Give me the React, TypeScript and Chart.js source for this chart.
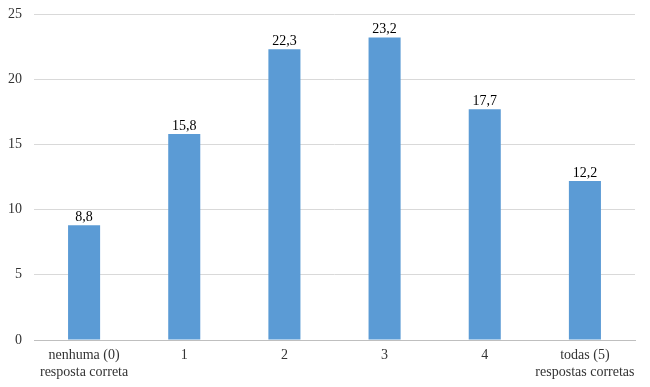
import React, { useEffect, useRef } from "react";
import { Chart, registerables } from "chart.js";

Chart.register(...registerables);

const categories: (string | string[])[] = [
  ["nenhuma (0)", "resposta correta"],
  "1",
  "2",
  "3",
  "4",
  ["todas (5)", "respostas corretas"],
];
const values = [8.8, 15.8, 22.3, 23.2, 17.7, 12.2];
const yTicks = [0, 5, 10, 15, 20, 25];

const FONT = '"Liberation Serif", "Times New Roman", serif';

const valueLabels = {
  id: "valueLabels",
  afterDatasetsDraw(chart: any) {
    const { ctx } = chart;
    const meta = chart.getDatasetMeta(0);
    ctx.save();
    ctx.font = `14px ${FONT}`;
    ctx.fillStyle = "#000";
    ctx.textAlign = "center";
    ctx.textBaseline = "bottom";
    meta.data.forEach((bar: any, i: number) => {
      const v = chart.data.datasets[0].data[i] as number;
      ctx.fillText(v.toFixed(1).replace(".", ","), bar.x, bar.y - 1);
    });
    ctx.restore();
  },
};

export default function App() {
  const ref = useRef<HTMLCanvasElement>(null);
  useEffect(() => {
    let chart: any = null;
    let cancelled = false;
    const make = () => {
      if (cancelled || !ref.current) return;
      chart = new Chart(ref.current, {
        type: "bar",
        data: {
          labels: categories,
          datasets: [
            {
              data: values,
              backgroundColor: "#5B9BD5",
              barPercentage: 0.32,
              categoryPercentage: 1,
            },
          ],
        },
        options: {
          animation: false,
          responsive: false,
          maintainAspectRatio: false,
          layout: { padding: { top: 14, right: 15, left: 0, bottom: 0 } },
          plugins: {
            legend: { display: false },
            tooltip: { enabled: false },
          },
          scales: {
            x: {
              grid: { display: false, drawTicks: false },
              border: { display: true, color: "#bfbfbf", width: 1 },
              ticks: {
                color: "#333",
                font: { family: FONT, size: 14 },
                padding: 7,
                maxRotation: 0,
                autoSkip: false,
              },
              afterFit(scale: any) {
                scale.height = 47;
                scale.paddingLeft = 0;
                scale.paddingRight = 0;
              },
            },
            y: {
              min: 0,
              max: 25,
              afterBuildTicks(scale: any) {
                scale.ticks = yTicks.map((v) => ({ value: v }));
              },
              grid: { color: "#d9d9d9", drawTicks: false },
              border: { display: false },
              ticks: {
                color: "#333",
                font: { family: FONT, size: 14 },
                padding: 12,
              },
              afterFit(scale: any) {
                scale.width = 34;
                scale.paddingTop = 0;
                scale.paddingBottom = 0;
              },
            },
          },
        },
        plugins: [valueLabels],
      });
    };
    const fonts = (document as any).fonts;
    if (fonts && fonts.load) {
      Promise.all([
        fonts.load('13px "Liberation Serif"'),
        fonts.load('14px "Liberation Serif"'),
      ]).then(make, make);
    } else {
      make();
    }
    return () => {
      cancelled = true;
      if (chart) chart.destroy();
    };
  }, []);
  return (
    <div style={{ position: "fixed", left: 0, top: 0, width: 650, height: 387, background: "#fff" }}>
      <canvas ref={ref} width={650} height={387} />
    </div>
  );
}
